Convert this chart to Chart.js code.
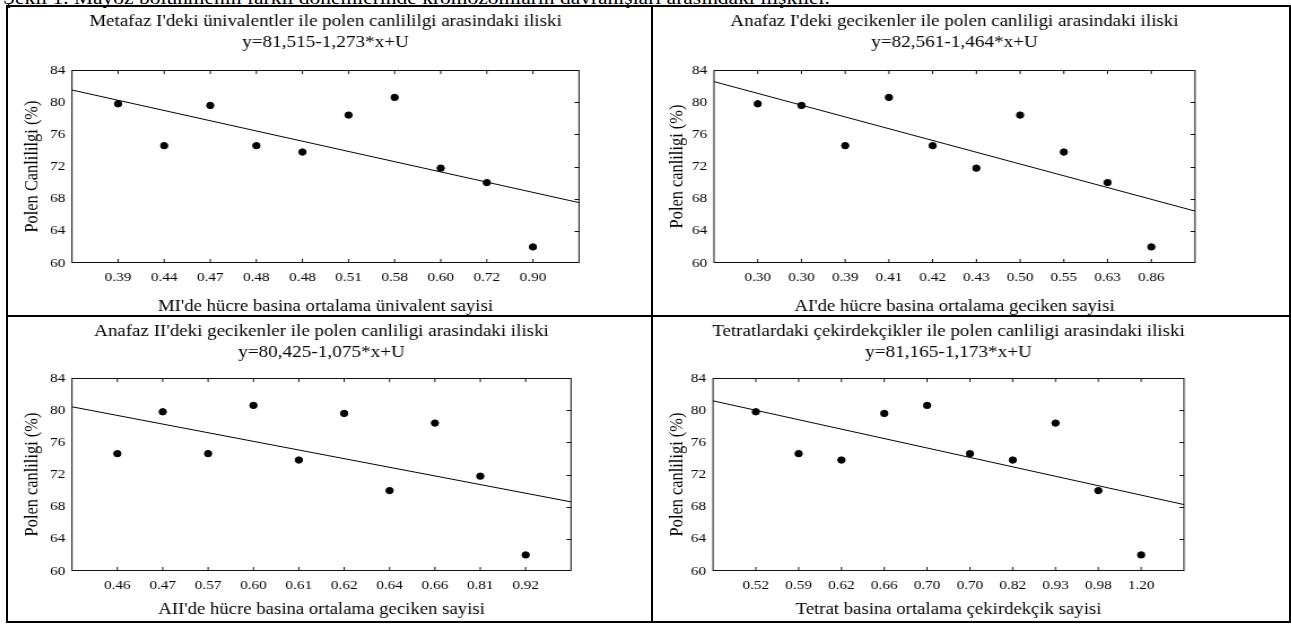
<!DOCTYPE html>
<html>
<head>
<meta charset="utf-8">
<script src="https://cdn.jsdelivr.net/npm/chart.js@4"></script>
<style>
  body { margin: 0; background: #fff; width: 1291px; height: 624px; overflow: hidden; position: relative; font-family: "Liberation Serif", "Times New Roman", serif; }
  .caption { position: absolute; left: 3px; top: -12px; font-size: 19px; line-height: 19px; white-space: nowrap; color: #000; transform: scaleX(1.13); transform-origin: 0 0; }
  .table { position: absolute; left: 6px; top: 5px; width: 1285px; height: 618px; border: 2px solid #000; box-sizing: border-box; }
  .vline { position: absolute; left: 651px; top: 5px; width: 2px; height: 618px; background: #000; }
  .hline { position: absolute; left: 6px; top: 315px; width: 1285px; height: 2px; background: #000; }
  canvas { position: absolute; transform-origin: 0 0; }
</style>
</head>
<body>
<div class="caption">Şekil 1. Mayoz bölünmenin farklı dönemlerinde kromozomların davranışları arasındaki ilişkiler.</div>
<div class="table"></div>
<div class="vline"></div>
<div class="hline"></div>
<canvas id="c1"></canvas>
<canvas id="c2"></canvas>
<canvas id="c3"></canvas>
<canvas id="c4"></canvas>
<script>
// Polen canlılığı (%) for each stage, in the order of the x categories
const miLabels = ['0.39', '0.44', '0.47', '0.48', '0.48', '0.51', '0.58', '0.60', '0.72', '0.90'];
const miValues = [79.8, 74.6, 79.6, 74.6, 73.8, 78.4, 80.6, 71.8, 70.0, 62.0];

const aiLabels = ['0.30', '0.30', '0.39', '0.41', '0.42', '0.43', '0.50', '0.55', '0.63', '0.86'];
const aiValues = [79.8, 79.6, 74.6, 80.6, 74.6, 71.8, 78.4, 73.8, 70.0, 62.0];

const aiiLabels = ['0.46', '0.47', '0.57', '0.60', '0.61', '0.62', '0.64', '0.66', '0.81', '0.92'];
const aiiValues = [74.6, 79.8, 74.6, 80.6, 73.8, 79.6, 70.0, 78.4, 71.8, 62.0];

const tetLabels = ['0.52', '0.59', '0.62', '0.66', '0.70', '0.70', '0.82', '0.93', '0.98', '1.20'];
const tetValues = [79.8, 74.6, 73.8, 79.6, 80.6, 74.6, 73.8, 78.4, 70.0, 62.0];

// regression lines y = a + b*x (x = category index)
const intercepts = [81.515, 82.561, 80.425, 81.165];
const slopes = [-1.273, -1.464, -1.075, -1.173];

const titles = [
  "Metafaz I'deki ünivalentler ile polen canlililgi arasindaki iliski",
  "Anafaz I'deki gecikenler ile polen canliligi arasindaki iliski",
  "Anafaz II'deki gecikenler ile polen canliligi arasindaki iliski",
  "Tetratlardaki çekirdekçikler ile polen canliligi arasindaki iliski"
];
const equations = ['y=81,515-1,273*x+U', 'y=82,561-1,464*x+U', 'y=80,425-1,075*x+U', 'y=81,165-1,173*x+U'];
const yTitles = ['Polen Canlililgi (%)', 'Polen canliligi (%)', 'Polen canliligi (%)', 'Polen canliligi (%)'];
const xTitles = [
  "MI'de hücre basina ortalama ünivalent sayisi",
  "AI'de hücre basina ortalama geciken sayisi",
  "AII'de hücre basina ortalama geciken sayisi",
  'Tetrat basina ortalama çekirdekçik sayisi'
];

// the graphs are drawn narrow and widened horizontally, like the printed figure
const stretch = 1.13;

// canvas box and plot area of each panel (page pixels)
const panels = [
  { id: 'c1', labels: miLabels, values: miValues, left: 8, top: 7, height: 308, plotL: 72, plotR: 579, plotT: 70, plotB: 263, xTitleY: 307 },
  { id: 'c2', labels: aiLabels, values: aiValues, left: 653, top: 7, height: 308, plotL: 714, plotR: 1195, plotT: 70, plotB: 263, xTitleY: 307 },
  { id: 'c3', labels: aiiLabels, values: aiiValues, left: 8, top: 317, height: 304, plotL: 72, plotR: 571, plotT: 378, plotB: 571, xTitleY: 610 },
  { id: 'c4', labels: tetLabels, values: tetValues, left: 653, top: 317, height: 304, plotL: 713, plotR: 1184, plotT: 378, plotB: 571, xTitleY: 610 }
];

Chart.defaults.font.family = '"Liberation Serif", "Times New Roman", serif';
Chart.defaults.color = '#000';

// plot frame with small inward tick marks on top, bottom and right
const framePlugin = {
  id: 'frame',
  beforeDatasetsDraw(chart) {
    const { ctx, chartArea: a, scales: { x, y } } = chart;
    ctx.save();
    ctx.strokeStyle = '#111';
    ctx.lineWidth = 1;
    ctx.strokeRect(a.left, Math.round(a.top) + 0.5, a.width, Math.round(a.height) - 1);
    ctx.beginPath();
    for (let i = 1; i <= 10; i++) {
      const px = x.getPixelForValue(i);
      ctx.moveTo(px, a.top); ctx.lineTo(px, a.top + 4);
      ctx.moveTo(px, a.bottom); ctx.lineTo(px, a.bottom - 4);
    }
    for (let v = 64; v <= 80; v += 4) {
      const py = Math.round(y.getPixelForValue(v)) + 0.5;
      ctx.moveTo(a.right, py); ctx.lineTo(a.right - 4, py);
    }
    ctx.stroke();
    ctx.restore();
  }
};

panels.forEach((p, k) => {
  const canvas = document.getElementById(p.id);
  // canvas centred on the plot so the titles sit over it
  const centre = (p.plotL + p.plotR) / 2;
  const boxWidth = 2 * (centre - p.left);
  const width = Math.round(boxWidth / stretch);
  const sx = boxWidth / width;
  canvas.width = width;
  canvas.height = p.height;
  canvas.style.left = p.left + 'px';
  canvas.style.top = p.top + 'px';
  canvas.style.transform = 'scaleX(' + sx + ')';

  const sideWidth = (p.plotL - p.left) / sx;
  const plotTop = p.plotT - p.top;
  const xHeight = p.top + p.height - p.plotB;
  const xTitlePad = Math.max(0, p.top + p.height - p.xTitleY - 8.3);

  const points = p.values.map((v, i) => ({ x: i + 1, y: v }));
  const fit = [
    { x: 0, y: intercepts[k] },
    { x: 11, y: intercepts[k] + slopes[k] * 11 }
  ];

  new Chart(canvas, {
    type: 'scatter',
    data: {
      datasets: [
        {
          data: points,
          backgroundColor: '#000',
          borderColor: '#000',
          pointRadius: 3.2,
          pointHoverRadius: 3.2
        },
        {
          type: 'line',
          data: fit,
          borderColor: '#000',
          borderWidth: 1,
          pointRadius: 0,
          fill: false
        }
      ]
    },
    options: {
      responsive: false,
      animation: false,
      devicePixelRatio: 1,
      layout: { padding: 0 },
      plugins: {
        legend: { display: false },
        tooltip: { enabled: false },
        title: {
          display: true,
          text: titles[k],
          font: { size: 16.8, weight: 'normal', lineHeight: 1.2 },
          padding: { top: 4.5, bottom: 0.2 }
        },
        subtitle: {
          display: true,
          text: equations[k],
          font: { size: 17, weight: 'normal', lineHeight: 1.2 },
          padding: { top: 0, bottom: plotTop - 45.2 }
        }
      },
      scales: {
        x: {
          type: 'linear',
          min: 0,
          max: 11,
          grid: { display: false, drawTicks: false },
          border: { display: false },
          ticks: {
            stepSize: 1,
            autoSkip: false,
            maxRotation: 0,
            padding: 6,
            font: { size: 13.5 },
            callback: v => (v >= 1 && v <= 10 ? p.labels[v - 1] : '')
          },
          title: {
            display: true,
            text: xTitles[k],
            font: { size: 16.6, lineHeight: 1 },
            padding: { top: 0, bottom: xTitlePad }
          },
          afterFit: s => { s.height = xHeight; }
        },
        y: {
          min: 60,
          max: 84,
          grid: { display: false, drawTicks: false },
          border: { display: false },
          ticks: { stepSize: 4, padding: 6, font: { size: 13.5 } },
          title: {
            display: true,
            text: yTitles[k],
            font: { size: 16.4, lineHeight: 1.2 },
            padding: { top: 11.4, bottom: 0 }
          },
          afterFit: s => { s.width = sideWidth; }
        },
        // empty right-hand axis balancing the left one
        yRight: {
          position: 'right',
          min: 60,
          max: 84,
          grid: { display: false, drawTicks: false },
          border: { display: false },
          ticks: { display: false },
          afterFit: s => { s.width = sideWidth; }
        }
      }
    },
    plugins: [framePlugin]
  });
});
</script>
</body>
</html>
